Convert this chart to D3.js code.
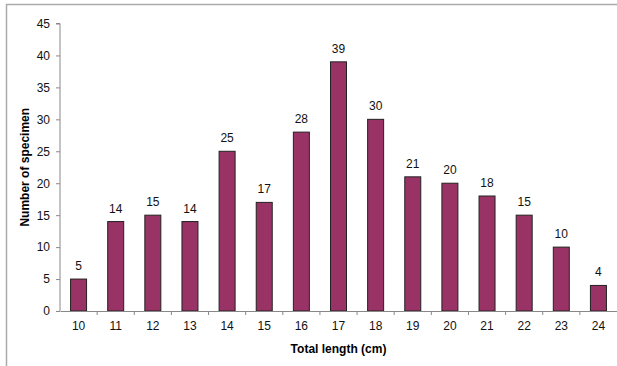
<!DOCTYPE html>
<html>
<head>
<meta charset="utf-8">
<script src="https://cdn.jsdelivr.net/npm/d3@7"></script>
<style>
  body { margin: 0; background: #fff; }
  svg { display: block; font-family: "Liberation Sans", Arial, sans-serif; }
</style>
</head>
<body>
<div id="chart"></div>
<script>
// data
const lengths = ["10", "11", "12", "13", "14", "15", "16", "17", "18", "19", "20", "21", "22", "23", "24"];
const counts = [5, 14, 15, 14, 25, 17, 28, 39, 30, 21, 20, 18, 15, 10, 4];
const yTicks = [0, 5, 10, 15, 20, 25, 30, 35, 40, 45];

const width = 617;
const height = 366;
const margin = { top: 23.5, right: 0, bottom: 55, left: 60 };

const svg = d3.select("#chart").append("svg")
  .attr("width", width)
  .attr("height", height);

// outer frame (only top and left edges visible)
svg.append("path")
  .attr("d", `M6.5,${height} V4.5 H${width}`)
  .attr("fill", "none")
  .attr("stroke", "#aaa")
  .attr("stroke-width", 1.5);

const x = d3.scaleBand()
  .domain(lengths)
  .range([margin.left, width - margin.right]);

const y = d3.scaleLinear()
  .domain([0, 45])
  .range([height - margin.bottom, margin.top]);

// bars
svg.selectAll(".bar")
  .data(counts)
  .enter()
  .append("rect")
  .attr("class", "bar")
  .attr("x", (d, i) => x(lengths[i]) + x.bandwidth() / 2 - 8)
  .attr("y", (d) => y(d))
  .attr("width", 16)
  .attr("height", (d) => y(0) - y(d))
  .attr("fill", "#993366")
  .attr("stroke", "#222")
  .attr("stroke-width", 1);

// value labels
svg.selectAll(".val")
  .data(counts)
  .enter()
  .append("text")
  .attr("class", "val")
  .attr("x", (d, i) => x(lengths[i]) + x.bandwidth() / 2)
  .attr("y", (d) => y(d) - 9)
  .attr("text-anchor", "middle")
  .style("font-size", "12px")
  .attr("fill", "#111")
  .text((d) => d);

// y axis
const yAxis = svg.append("g")
  .attr("transform", `translate(${margin.left},0)`)
  .call(d3.axisLeft(y).tickValues(yTicks).tickSize(4).tickPadding(6));
yAxis.select(".domain").attr("stroke", "#888").attr("d", `M-4,${y(45)}H0V${y(0)}`);
yAxis.selectAll(".tick line").attr("stroke", "#888");
yAxis.selectAll("text").style("font-size", "12px").attr("fill", "#111").attr("font-family", null);

// x axis with ticks between categories
const xAxis = svg.append("g")
  .attr("transform", `translate(0,${y(0)})`)
  .call(d3.axisBottom(x).tickSize(0).tickPadding(10));
xAxis.select(".domain").attr("stroke", "#888");
xAxis.selectAll("text").style("font-size", "12px").attr("fill", "#111").attr("font-family", null);
xAxis.selectAll(".sep")
  .data(lengths.slice(1))
  .enter()
  .append("line")
  .attr("class", "sep")
  .attr("x1", (d) => x(d))
  .attr("x2", (d) => x(d))
  .attr("y1", 0)
  .attr("y2", 4)
  .attr("stroke", "#888");

// axis titles
svg.append("text")
  .attr("x", (margin.left + width - margin.right) / 2)
  .attr("y", 353)
  .attr("text-anchor", "middle")
  .style("font-size", "12px")
  .style("font-weight", "bold")
  .text("Total length (cm)");

svg.append("text")
  .attr("transform", `translate(29,${(y(0) + y(45)) / 2}) rotate(-90)`)
  .attr("text-anchor", "middle")
  .style("font-size", "12px")
  .style("font-weight", "bold")
  .text("Number of specimen");
</script>
</body>
</html>
